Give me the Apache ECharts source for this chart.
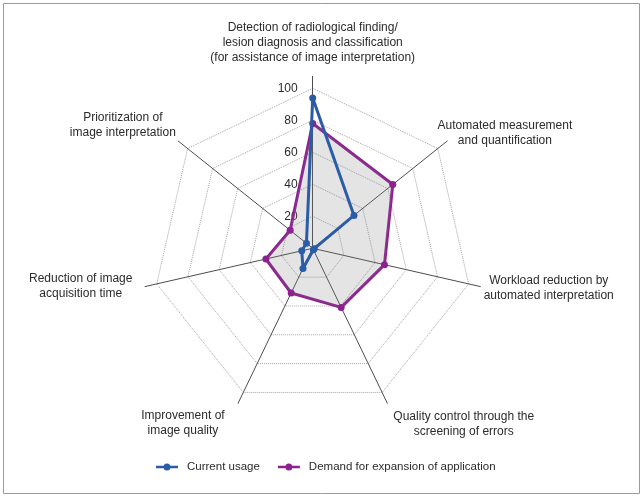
<!DOCTYPE html>
<html><head><meta charset="utf-8">
<script src="https://cdn.jsdelivr.net/npm/echarts@6/dist/echarts.min.js"></script>
<style>html,body{margin:0;padding:0;background:#fff}#c{width:644px;height:497px}</style>
</head><body><div id="c"></div>
<script>
// categories listed clockwise from the top
const categories = [
  'Detection of radiological finding/\nlesion diagnosis and classification\n(for assistance of image interpretation)',
  'Automated measurement\nand quantification',
  'Workload reduction by\nautomated interpretation',
  'Quality control through the\nscreening of errors',
  'Improvement of\nimage quality',
  'Reduction of image\nacquisition time',
  'Prioritization of\nimage interpretation'
];
const seriesNames = ['Current usage', 'Demand for expansion of application'];
const currentUsage = [94, 33, 1, 1, 14, 7, 5];
const demandExpansion = [78, 64, 46, 41, 31, 30, 18];
const tickLabels = [20, 40, 60, 80, 100];
const axisMax = 100;

const FONT = "'Liberation Sans', Arial, sans-serif";
const FS = 12;
const TEXT = '#2b2b2b';
const CENTER = [312.7, 248.3];
const BLUE = '#2b5ca8';
const PURPLE = '#8c2190';

// ECharts places indicators counter-clockwise; reorder so categories run clockwise
const n = categories.length;
const order = categories.map((_, k) => (n - k) % n);
const ordered = arr => order.map(i => arr[i]);

// per-label text offsets (padding top/right/bottom/left) used to place each axis name
const namePad = [
  {t: 0, r: 0, b: 63.5, l: 0},
  {t: 0, r: 0, b: 81, l: 31},
  {t: 26.4, r: 0, b: 0, l: 54},
  {t: 135.6, r: 0, b: 0, l: 28.6},
  {t: 133.6, r: 36, b: 0, l: 0},
  {t: 23, r: 63.3, b: 0, l: 0},
  {t: 0, r: 43, b: 96.6, l: 0}
];
const rich = {};
namePad.forEach((p, i) => {
  const base = {align: 'center', height: 15, fontSize: FS, fontFamily: FONT, color: TEXT};
  rich['n' + i + 'f'] = Object.assign({}, base, {padding: [p.t, p.r, 0, p.l]});
  rich['n' + i + 'm'] = Object.assign({}, base, {padding: [0, p.r, 0, p.l]});
  rich['n' + i + 'l'] = Object.assign({}, base, {padding: [0, p.r, p.b, p.l]});
});
function nameFormatter(value) {
  const i = categories.indexOf(value);
  const lines = value.split('\n');
  return lines.map((ln, k) => {
    const key = k === 0 ? 'f' : (k === lines.length - 1 ? 'l' : 'm');
    return '{n' + i + key + '|' + ln + '}';
  }).join('\n');
}

// line with a dot in the middle (bar and circle wound the same way)
const legendIcon = 'path://M0,2.2H22V4.8H0Z M7.5,3.5A3.5,3.5 0 1 1 14.5,3.5A3.5,3.5 0 1 1 7.5,3.5Z';

const chart = echarts.init(document.getElementById('c'), null, {renderer: 'canvas'});
chart.setOption({
  animation: false,
  backgroundColor: '#fff',
  graphic: [{
    type: 'rect', shape: {x: 3.5, y: 3.5, width: 636, height: 490},
    style: {fill: 'none', stroke: '#9a9a9a', lineWidth: 1}, silent: true
  }],
  legend: {
    data: seriesNames,
    left: 151, top: 456,
    icon: legendIcon,
    itemWidth: 22, itemHeight: 7, itemGap: 18,
    textStyle: {fontSize: 11.5, fontFamily: FONT, color: TEXT, padding: [0, 0, 0, 4]}
  },
  radar: [
    { // axis lines (extend a bit beyond the outer ring)
      center: CENTER, radius: 172, startAngle: 90, shape: 'polygon',
      indicator: ordered(categories).map(() => ({name: '', max: axisMax})),
      axisName: {show: false},
      axisLine: {show: true, lineStyle: {color: '#4d4d4d', width: 1}},
      splitLine: {show: false}, splitArea: {show: false}
    },
    { // axis names
      center: CENTER, radius: 120, startAngle: 90, shape: 'polygon', nameGap: 0,
      indicator: ordered(categories).map(c => ({name: c, max: axisMax})),
      axisName: {show: true, formatter: nameFormatter, rich: rich, color: TEXT, fontSize: FS, fontFamily: FONT},
      axisLine: {show: false}, splitLine: {show: false}, splitArea: {show: false}
    },
    { // rings, tick labels, data
      center: CENTER, radius: 160, startAngle: 90, shape: 'polygon', splitNumber: tickLabels.length,
      indicator: ordered(categories).map((c, k) => {
        const ind = {name: '', min: 0, max: axisMax};
        if (k === 0) ind.axisLabel = {
          show: true, margin: 15, fontSize: FS, fontFamily: FONT, color: TEXT,
          formatter: v => (tickLabels.indexOf(v) >= 0 ? String(v) : '')
        };
        return ind;
      }),
      axisName: {show: false},
      axisLine: {show: false},
      splitLine: {show: true, lineStyle: {color: '#a3a3a3', type: 'dotted', width: 1}},
      splitArea: {show: false}
    }
  ],
  series: [
    {
      type: 'radar', radarIndex: 2, name: seriesNames[0], z: 3,
      symbol: 'circle', symbolSize: 7,
      data: [{value: ordered(currentUsage), name: seriesNames[0]}],
      itemStyle: {color: BLUE},
      lineStyle: {color: BLUE, width: 3}
    },
    {
      type: 'radar', radarIndex: 2, name: seriesNames[1], z: 2,
      symbol: 'circle', symbolSize: 7,
      data: [{value: ordered(demandExpansion), name: seriesNames[1]}],
      itemStyle: {color: PURPLE},
      lineStyle: {color: PURPLE, width: 3},
      areaStyle: {color: 'rgba(128,128,128,0.3)'}
    }
  ]
});
</script></body></html>
